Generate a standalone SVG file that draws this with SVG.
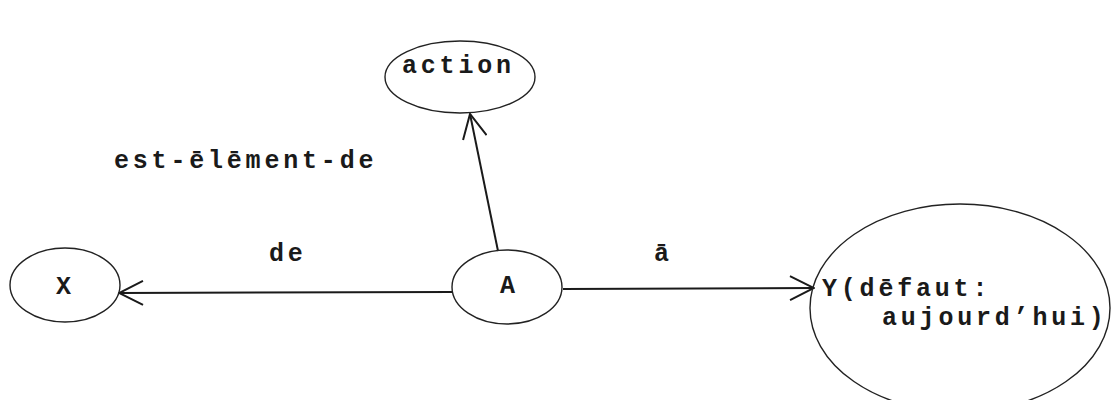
<svg xmlns="http://www.w3.org/2000/svg" width="1111" height="400" viewBox="0 0 1111 400">
<style>
.node{fill:none;stroke:#222;stroke-width:1.4}
.edge{fill:none;stroke:#1a1a1a;stroke-width:2}
text{font-family:"Liberation Mono","DejaVu Sans Mono",monospace;font-size:25px;font-weight:bold;fill:#1a1a1a;letter-spacing:3.8px}
</style>
<defs>
<marker id="arr" viewBox="0 0 26 26" refX="25" refY="13" markerWidth="26" markerHeight="26" markerUnits="userSpaceOnUse" orient="auto">
<path d="M1,1 L25,13 L1,25" fill="none" stroke="#1a1a1a" stroke-width="2"/>
</marker>
</defs>
<rect width="1111" height="400" fill="#fff"/>
<g id="connectors">
<path class="edge" d="M452,292 L119,293" marker-end="url(#arr)"/>
<path class="edge" d="M563,289 L814,288" marker-end="url(#arr)"/>
<path class="edge" d="M498,251 L470,114" marker-end="url(#arr)"/>
</g>
<g id="node-action">
<ellipse class="node" cx="460" cy="77" rx="75" ry="36"/>
<text x="402" y="73">action</text>
</g>
<g id="node-X">
<ellipse class="node" cx="65" cy="285" rx="55" ry="37"/>
<text x="56" y="294">X</text>
</g>
<g id="node-A">
<ellipse class="node" cx="507" cy="287" rx="55" ry="37"/>
<text x="500" y="293">A</text>
</g>
<g id="node-Y">
<ellipse class="node" cx="960" cy="308" rx="150" ry="104"/>
<text x="822" y="296">Y(dēfaut:</text>
<text x="882" y="325">aujourd’hui)</text>
</g>
<g id="labels">
<text x="114" y="168">est-ēlēment-de</text>
<text x="269" y="261">de</text>
<text x="654" y="261">ā</text>
</g>
</svg>
